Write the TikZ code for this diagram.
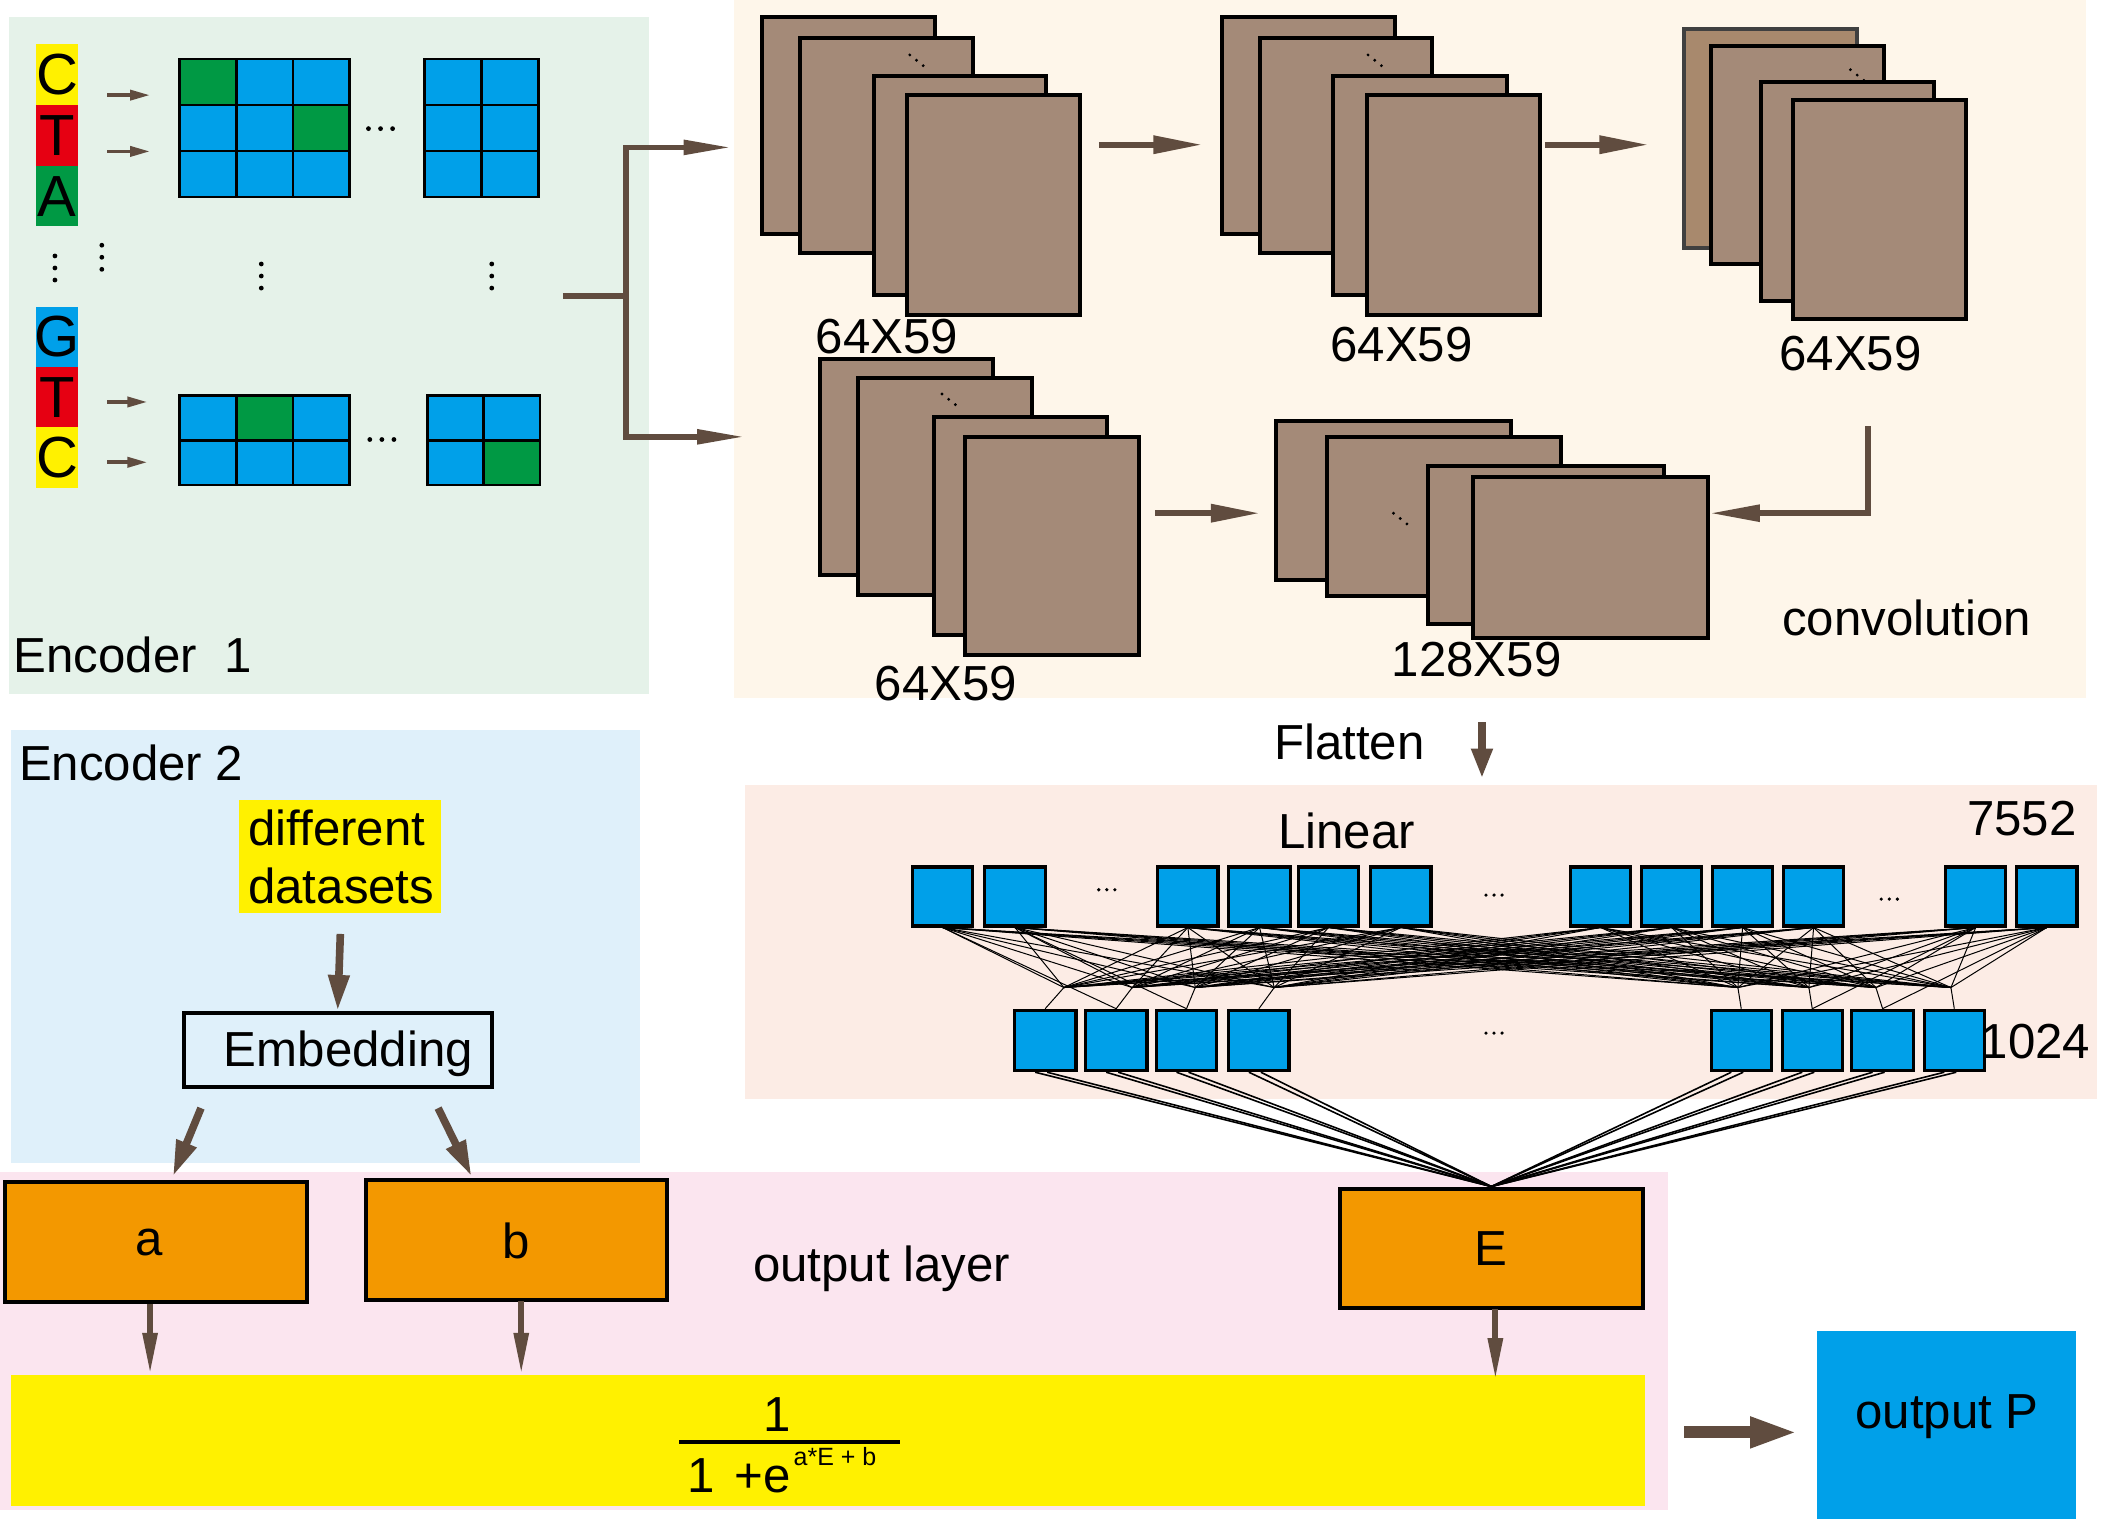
\documentclass[tikz,border=0pt]{standalone}
\usepackage{fontspec}
\setmainfont{Liberation Sans}
\usetikzlibrary{arrows.meta,fit}
\definecolor{encAbg}{HTML}{E5F2E9}
\definecolor{convbg}{HTML}{FEF6EA}
\definecolor{encBbg}{HTML}{DFF0FA}
\definecolor{linbg}{HTML}{FCECE5}
\definecolor{outbg}{HTML}{FBE5EF}
\definecolor{fmapc}{HTML}{A48A78}
\definecolor{fmapd}{HTML}{A8896D}
\definecolor{cblue}{HTML}{00A0E9}
\definecolor{cgreen}{HTML}{009944}
\definecolor{cyellow}{HTML}{FFF100}
\definecolor{cred}{HTML}{E60012}
\definecolor{corange}{HTML}{F39800}
\definecolor{abrown}{HTML}{604C3F}
\newcommand\bigf{\fontsize{24.6pt}{29pt}\selectfont}
\newcommand\letf{\fontsize{29pt}{31pt}\selectfont}
\newcommand\supf{\fontsize{12.5pt}{14pt}\selectfont}
\newcommand\diagdots[2]{\foreach \k in {0,1,2} \fill ({#1+5*\k},{#2+4*\k}) circle[radius=0.8pt];}
\begin{document}
\begin{tikzpicture}[x=0.67pt,y=-0.67pt,
  pan/.style={inner sep=0pt, outer sep=0pt, draw=none},
  fmap/.style={draw=black, line width=2pt, fill=fmapc, inner sep=0pt},
  nn/.style={draw=black, line width=1.6pt, fill=cblue, inner sep=0pt},
  obox/.style={draw=black, line width=2pt, fill=corange, inner sep=0pt},
  lab/.style={inner sep=0pt, font=\bigf},
  letter/.style={inner sep=0pt, font=\letf},
  gridline/.style={draw=black, line width=1.4pt},
  thinarr/.style={draw=abrown, line width=1.8pt, -{Triangle[length=10pt,width=5pt]}},
  brk/.style={draw=abrown, line width=2.8pt},
  convarr/.style={draw=abrown, line width=3.2pt, -{Triangle[length=25pt,width=8.5pt]}},
  midarr/.style={draw=abrown, line width=3.8pt, -{Triangle[length=18pt,width=10pt]}},
  downarr/.style={draw=abrown, line width=3pt, -{Triangle[length=21pt,width=7pt]}},
  outarr/.style={draw=abrown, line width=6pt, -{Triangle[length=24pt,width=14pt]}},
  wire/.style={draw=black, line width=0.5pt},
  ewire/.style={draw=black, line width=0.8pt}
]
\useasboundingbox (0,0) rectangle (1568,1134);
\fill[white] (0,0) rectangle (1568,1134);

% ---------- panels ----------
\node[pan, fill=encAbg, fit={(7,13) (484,518)}] (enc1) {};
\node[pan, fill=convbg, fit={(548,0) (1557,521)}] (conv) {};
\node[pan, fill=encBbg, fit={(8,545) (478,868)}] (enc2) {};
\node[pan, fill=linbg, fit={(556,586) (1565,820)}] (lin) {};
\node[pan, fill=outbg, fit={(0,875) (1245,1127)}] (outl) {};

% ---------- Encoder 1 ----------
\node[pan, fill=cyellow, fit={(27,33) (58,78)}] (n1) {};
\node[pan, fill=cred, fit={(27,78) (58,124)}] (n2) {};
\node[pan, fill=cgreen, fit={(27,124) (58,169)}] (n3) {};
\node[pan, fill=cblue, fit={(27,229) (58,274)}] (n4) {};
\node[pan, fill=cred, fit={(27,274) (58,319)}] (n5) {};
\node[pan, fill=cyellow, fit={(27,319) (58,364)}] (n6) {};
\node[letter] (n1t) at (n1.center) {C};
\node[letter] (n2t) at (n2.center) {T};
\node[letter] (n3t) at (n3.center) {A};
\node[letter] (n4t) at (n4.center) {G};
\node[letter] (n5t) at (n5.center) {T};
\node[letter] (n6t) at (n6.center) {C};

\coordinate (e1s) at (80,71);  \coordinate (e1e) at (112,71);
\coordinate (e2s) at (80,113); \coordinate (e2e) at (112,113);
\coordinate (e3s) at (80,300); \coordinate (e3e) at (110,300);
\coordinate (e4s) at (80,345); \coordinate (e4e) at (110,345);
\draw[thinarr] (e1s) -- (e1e);
\draw[thinarr] (e2s) -- (e2e);
\draw[thinarr] (e3s) -- (e3e);
\draw[thinarr] (e4s) -- (e4e);

% grid 1 (3x3)
\node[pan, fill=cblue, fit={(134,44) (261,147)}] (g1) {};
\fill[cgreen] (134,44) rectangle (176.3,78.3);
\fill[cgreen] (218.7,78.3) rectangle (261,112.7);
\draw[gridline] (134,44) rectangle (261,147);
\draw[gridline] (176.3,44) -- (176.3,147) (218.7,44) -- (218.7,147)
                (134,78.3) -- (261,78.3) (134,112.7) -- (261,112.7);
% grid 2 (2x3)
\node[pan, fill=cblue, fit={(317,44) (402,147)}] (g2) {};
\draw[gridline] (317,44) rectangle (402,147);
\draw[gridline] (359.5,44) -- (359.5,147)
                (317,78.3) -- (402,78.3) (317,112.7) -- (402,112.7);
% grid 3 (3x2)
\node[pan, fill=cblue, fit={(134,295) (261,362)}] (g3) {};
\fill[cgreen] (176.3,295) rectangle (218.7,328.5);
\draw[gridline] (134,295) rectangle (261,362);
\draw[gridline] (176.3,295) -- (176.3,362) (218.7,295) -- (218.7,362)
                (134,328.5) -- (261,328.5);
% grid 4 (2x2)
\node[pan, fill=cblue, fit={(319,295) (403,362)}] (g4) {};
\fill[cgreen] (361,328.5) rectangle (403,362);
\draw[gridline] (319,295) rectangle (403,362);
\draw[gridline] (361,295) -- (361,362) (319,328.5) -- (403,328.5);

% ellipses
\foreach \x in {275,284,293} \fill (\x,96) circle[radius=1.2pt];
\foreach \x in {276,285,294} \fill (\x,328) circle[radius=1.2pt];
\foreach \y in {191,200,209} \fill (41,\y) circle[radius=1.2pt];
\foreach \y in {183,192,201} \fill (76,\y) circle[radius=1.2pt];
\foreach \y in {197,206,215} \fill (195,\y) circle[radius=1.2pt];
\foreach \y in {197,206,215} \fill (367,\y) circle[radius=1.2pt];

\node[lab, anchor=west] (enc1lab) at (10,489) {Encoder\ \ 1};

% bracket
\coordinate (bj) at (420,221); \coordinate (bm) at (467,221);
\coordinate (bt) at (467,110); \coordinate (bb) at (467,326);
\coordinate (bte) at (546,110); \coordinate (bbe) at (556,326);
\draw[brk] (bj) -- (bm);
\draw[brk, {Triangle[length=24pt,width=7pt]}-{Triangle[length=24pt,width=7pt]}]
   (bte) -- (bt) -- (bb) -- (bbe);

% ---------- convolution stacks ----------
\node[fmap, fit={(569,13) (698,175)}] (s1a) {};
\node[fmap, fit={(597,28) (726,189)}] (s1b) {};
\node[fmap, fit={(652,57) (781,220)}] (s1c) {};
\node[fmap, fit={(677,71) (806,235)}] (s1d) {};
\diagdots{679}{41}
\node[lab] (l1) at (662,251) {64X59};

\node[fmap, fit={(912,13) (1041,175)}] (s2a) {};
\node[fmap, fit={(940,28) (1069,189)}] (s2b) {};
\node[fmap, fit={(995,57) (1125,220)}] (s2c) {};
\node[fmap, fit={(1020,71) (1149,235)}] (s2d) {};
\diagdots{1021}{41}
\node[lab] (l2) at (1046,257) {64X59};

\node[fmap, draw=black!75, fill=fmapd, fit={(1257,22) (1386,185)}] (s3a) {};
\node[fmap, fit={(1277,34) (1406,197)}] (s3b) {};
\node[fmap, fit={(1314,61) (1443,225)}] (s3c) {};
\node[fmap, fit={(1338,75) (1467,238)}] (s3d) {};
\diagdots{1381}{52}
\node[lab] (l3) at (1381,264) {64X59};

\node[fmap, fit={(612,268) (741,429)}] (s4a) {};
\node[fmap, fit={(640,282) (770,444)}] (s4b) {};
\node[fmap, fit={(697,311) (826,474)}] (s4c) {};
\node[fmap, fit={(720,326) (850,489)}] (s4d) {};
\diagdots{703}{294}
\node[lab] (l4) at (706,510) {64X59};

\node[fmap, fit={(952,314) (1128,433)}] (s5a) {};
\node[fmap, fit={(990,326) (1165,445)}] (s5b) {};
\node[fmap, fit={(1066,348) (1242,466)}] (s5c) {};
\node[fmap, fit={(1099,356) (1275,476)}] (s5d) {};
\diagdots{1040}{383}
\node[lab] (l5) at (1102,492) {128X59};

\node[lab] (convlab) at (1423,461) {convolution};

\coordinate (c12s) at (820,108);  \coordinate (c12e) at (898,108);
\coordinate (c23s) at (1153,108); \coordinate (c23e) at (1231,108);
\coordinate (c45s) at (862,383);  \coordinate (c45e) at (941,383);
\draw[convarr] (c12s) -- (c12e);
\draw[convarr] (c23s) -- (c23e);
\draw[convarr] (c45s) -- (c45e);
\coordinate (rs) at (1394,318); \coordinate (rc) at (1394,383); \coordinate (re) at (1276,383);
\draw[brk, -{Triangle[length=25pt,width=8pt]}] (rs) -- (rc) -- (re);

% ---------- Flatten / Linear ----------
\node[lab] (flat) at (1007,554) {Flatten};
\coordinate (fs) at (1106,539); \coordinate (fe) at (1106,581);
\draw[midarr, -{Triangle[length=15pt,width=10pt]}] (fs) -- (fe);

\node[lab] (linlab) at (1005,620) {Linear};
\node[lab] (n7552) at (1509,611) {7552};
\node[lab] (n1024) at (1519,777) {1024};

\foreach \i/\xa/\xb in {1/681/726, 2/735/780, 3/864/909, 4/917/963, 5/969/1014, 6/1023/1068,
                        7/1172/1217, 8/1225/1270, 9/1278/1323, 10/1331/1376, 11/1452/1497, 12/1505/1550}
  \node[nn, fit={(\xa,647) (\xb,691)}] (t\i) {};
\foreach \j/\xa/\xb in {1/757/803, 2/810/856, 3/863/908, 4/917/962,
                        5/1277/1322, 6/1330/1375, 7/1382/1428, 8/1436/1481}
  \node[nn, fit={(\xa,754) (\xb,799)}] (b\j) {};
\foreach \j/\x in {1/794, 2/845, 3/892, 4/951, 5/1297, 6/1350, 7/1400, 8/1456}
  \coordinate (p\j) at (\x,737);

\foreach \i in {1,...,12}
  \foreach \j in {1,...,8}
    \draw[wire] (t\i.south) -- (p\j);
\foreach \j in {1,...,8}
  \draw[wire] (p\j) -- (b\j.north);
\draw[wire] (t1.south) -- (b2.north);
\draw[wire] (t2.south) -- (b3.north);
\draw[wire] (t11.south) -- (b6.north);
\draw[wire] (t12.south) -- (b7.north);

\foreach \x in {820,826,832} \fill (\x,664) circle[radius=0.9pt];
\foreach \x in {1109,1115,1121} \fill (\x,668) circle[radius=0.9pt];
\foreach \x in {1404,1410,1416} \fill (\x,671) circle[radius=0.9pt];
\foreach \x in {1109,1115,1121} \fill (\x,771) circle[radius=0.9pt];

% ---------- Encoder 2 ----------
\node[lab, anchor=west] (enc2lab) at (14,569) {Encoder 2};
\node[pan, fill=cyellow, fit={(178,597) (329,681)}] (data) {};
\node[lab, anchor=base west] (data1) at (185,631) {different};
\node[lab, anchor=base west] (data2) at (185,674) {datasets};
\node[draw=black, line width=2pt, inner sep=0pt, fit={(137,756) (367,811)}] (emb) {};
\node[lab, anchor=base] (embt) at (260,796) {Embedding};
\coordinate (ds) at (254,697);
\draw[midarr] (ds) -- (emb.north);

% ---------- output layer ----------
\node[obox, fit={(4,882) (229,972)}] (a) {};
\node[obox, fit={(273,881) (498,970)}] (b) {};
\node[obox, fit={(1000,887) (1226,976)}] (E) {};
\node[lab] (at) at (111,927) {a};
\node[lab] (bt2) at (385,926) {b};
\node[lab] (Et) at (1113,932) {E};
\node[lab] (outlab) at (658,947) {output layer};

\coordinate (ea1) at (150,827); \coordinate (ea2) at (129,878);
\coordinate (eb1) at (327,827); \coordinate (eb2) at (352,878);
\draw[midarr] (ea1) -- (ea2);
\draw[midarr] (eb1) -- (eb2);

\foreach \j in {1,...,8} {
  \draw[ewire] ([xshift=-5pt]b\j.south) -- (E.north);
  \draw[ewire] ([xshift=1pt]b\j.south) -- (E.north);
}

\node[pan, fill=cyellow, fit={(8,1026) (1228,1124)}] (yel) {};
\coordinate (ya) at (112,1026); \coordinate (yb) at (389,1026); \coordinate (yE) at (1116,1030);
\coordinate (aa) at (112,973); \coordinate (bbs) at (389,971); \coordinate (Es) at (1116,977);
\draw[downarr] (aa) -- (ya);
\draw[downarr] (bbs) -- (yb);
\draw[downarr] (Es) -- (yE);

\node[lab, anchor=base] (num) at (580,1068) {1};
\draw[line width=2pt] (507,1076) -- (672,1076);
\node[lab, anchor=base west] (den) at (513,1114) {1\hspace{0.4em}+e};
\node[inner sep=0pt, font=\supf, anchor=base west] (sup) at (592,1094) {a*E + b};

% ---------- output P ----------
\node[pan, fill=cblue, fit={(1356,993) (1549,1134)}] (outP) {};
\node[lab] (outPlab) at (1453,1057) {output P};
\coordinate (os) at (1257,1069); \coordinate (oe) at (1342,1069);
\draw[outarr] (os) -- (oe);
\end{tikzpicture}
\end{document}
